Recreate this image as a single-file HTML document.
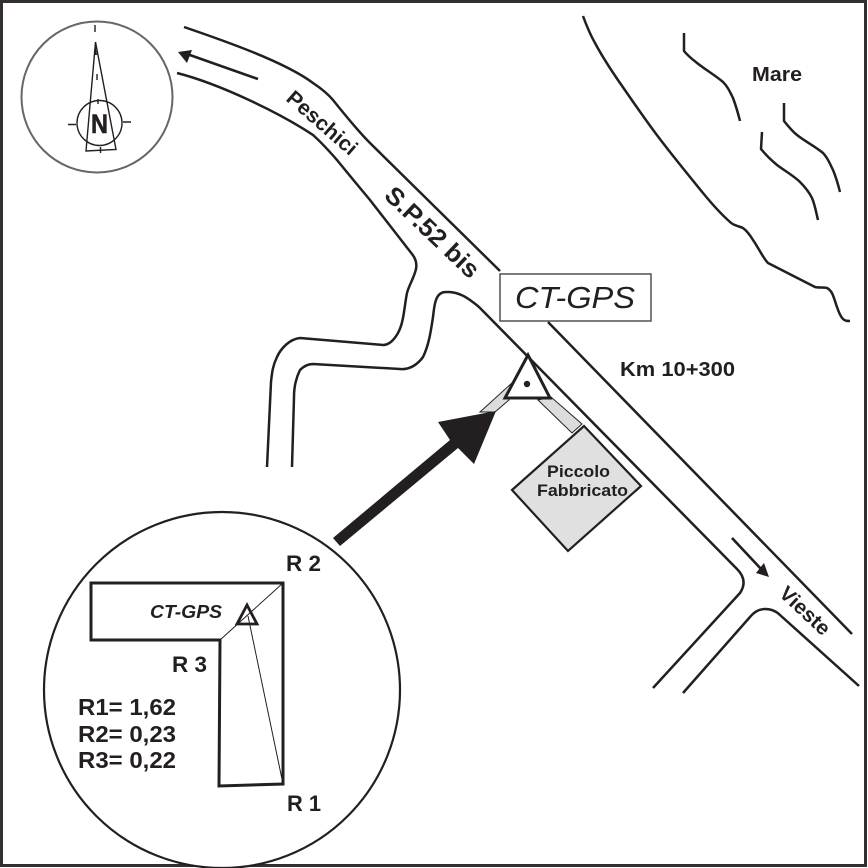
<!DOCTYPE html>
<html><head><meta charset="utf-8"><style>
html,body{margin:0;padding:0;background:#fff}
svg{display:block}
text{font-family:"Liberation Sans",sans-serif;fill:#231f20}
.b{font-weight:bold}
</style></head><body>
<svg width="868" height="868" viewBox="0 0 868 868" xmlns="http://www.w3.org/2000/svg">
<rect x="1.5" y="1.500" width="864" height="864" fill="#fff" stroke="#332f30" stroke-width="3"/>
<g fill="none" stroke="#231f20" stroke-width="2.500" stroke-linecap="butt" stroke-linejoin="round">
<!-- road -->
<path d="M184 27C225 41 285 62 313 83C322 89 328 94 333 100C345 115 358 131 370 143L500 271"/>
<path d="M548 322L852 634"/>
<path d="M177 73C220 84 280 113 313 135C322 143 330 152 337 160C350 176 360 188 370 200L412 254C416 259 417 264 416 269C414 278 409 285 407 293C404 308 404 322 398 333C394 340 389 345 383 345L300 338C290 339 281 348 277 357C273 365 272 372 271 382L267 467"/>
<path d="M292 467L294 397C294 385 297 376 300 370C304 366 308 364 313 364L400 369C410 370 418 364 423 357C429 345 431 330 433 317C434 308 435 300 438 296C441 292 444 292 448 292C456 292 463 295 470 300C474 303 477 305 480 308L737 569C744 576 746 584 740 593L653 688"/>
<path d="M683 693L750 617C754 612 759 609 765 609C771 609 776 611 780 615L859 686"/>
<!-- coast -->
<path d="M583 16C587 27 591 36 595 43C603 58 611 70 620 83C634 103 648 124 663 143C676 160 690 177 703 193C712 204 721 214 730 222C734 226 739 226 743 228C747 231 750 235 753 240C758 247 763 258 768 263L815 287C819 288 823 287 827 288C833 291 834 299 837 307C839 313 841 317 843 319C845 321 847 321 850 321"/>
<path d="M684 33L684 51C688 56 692 59 697 63C706 70 716 76 723 82C728 87 730 92 733 98C736 106 738 113 740 121"/>
<path d="M784 103L784 121C788 126 792 131 797 135C806 142 816 147 823 153C828 158 830 164 833 170C836 177 838 184 840 192"/>
<path d="M762 132L761 149C765 154 771 160 777 165C785 171 794 176 800 182C805 187 809 192 812 198C815 205 816 212 818 220"/>
<!-- road arrows -->
<path d="M258 79L187 54" stroke-width="2.600"/>
<path d="M732 538L762 570" stroke-width="2.600"/>
</g>
<polygon points="178,52 192,50 187,63" fill="#231f20"/>
<polygon points="769,577 764,563 756,573" fill="#231f20"/>
<!-- compass -->
<circle cx="97" cy="97" r="75.500" fill="#fff" stroke="#666" stroke-width="2"/>
<g fill="none" stroke="#231f20" stroke-width="1.400">
<path d="M95.500 42L86 151L116 149.500Z"/>
<circle cx="99.500" cy="123" r="22.500"/>
<path d="M68 124.500H76M123 122H131M95 25V32M97 74V80M98 99V104M100.500 147V153"/>
</g>
<path d="M95 42L97 55H94Z" fill="#231f20"/>
<text class="b" x="91" y="133" font-size="27" textLength="17" lengthAdjust="spacingAndGlyphs" stroke="#231f20" stroke-width="0.600">N</text>
<!-- gray strips -->
<g fill="#dcdcdc" stroke="#231f20" stroke-width="1">
<polygon points="480,412 513,382 509,400 495,412"/>
<polygon points="538,400 551,397 582,424 572,433"/>
</g>
<!-- diamond -->
<polygon points="584,426 641,486 568,551 512,490" fill="#e0e0e0" stroke="#231f20" stroke-width="2.200"/>
<text class="b" x="547" y="477" font-size="17" textLength="63" lengthAdjust="spacingAndGlyphs">Piccolo</text>
<text class="b" x="537" y="496" font-size="17" textLength="91" lengthAdjust="spacingAndGlyphs">Fabbricato</text>
<!-- triangle -->
<polygon points="528,355 505,398 550,398" fill="#fff" stroke="#231f20" stroke-width="3"/>
<circle cx="527" cy="384" r="3.200" fill="#231f20"/>
<!-- big arrow -->
<polygon points="333,538 450,440 438,422 496,411 474,464 458,448 340,546" fill="#231f20"/>
<!-- labels -->
<rect x="500" y="274" width="151" height="47" fill="#fff" stroke="#444" stroke-width="1.400"/>
<text x="515" y="308" font-size="31" font-style="italic" textLength="120" lengthAdjust="spacingAndGlyphs">CT-GPS</text>
<text class="b" x="620" y="376" font-size="20.500" textLength="115" lengthAdjust="spacingAndGlyphs">Km 10+300</text>
<text class="b" x="752" y="81" font-size="20" textLength="50" lengthAdjust="spacingAndGlyphs">Mare</text>
<text class="b" transform="translate(285,100) rotate(41)" font-size="21" textLength="86" lengthAdjust="spacingAndGlyphs">Peschici</text>
<text class="b" transform="translate(383,197) rotate(43.600)" font-size="25" textLength="120" lengthAdjust="spacingAndGlyphs">S.P.52 bis</text>
<text class="b" transform="translate(778,595) rotate(43)" font-size="20.500" textLength="61" lengthAdjust="spacingAndGlyphs">Vieste</text>
<!-- inset -->
<circle cx="222" cy="690" r="178" fill="#fff" stroke="#231f20" stroke-width="2.200"/>
<polygon points="91,583 283,583 283,784 219,786 220,640 91,640" fill="#fff" stroke="#231f20" stroke-width="3"/>
<path d="M220 640L283 583M248 616L283 784" fill="none" stroke="#231f20" stroke-width="1"/>
<polygon points="247,605 237,624 257,624" fill="none" stroke="#231f20" stroke-width="2.800"/>
<text class="b" x="150" y="618" font-size="18" font-style="italic" textLength="72" lengthAdjust="spacingAndGlyphs">CT-GPS</text>
<text class="b" x="286" y="571" font-size="22" textLength="35" lengthAdjust="spacingAndGlyphs">R 2</text>
<text class="b" x="172" y="672" font-size="22" textLength="35" lengthAdjust="spacingAndGlyphs">R 3</text>
<text class="b" x="287" y="811" font-size="22" textLength="34" lengthAdjust="spacingAndGlyphs">R 1</text>
<text class="b" x="78" y="715" font-size="23" textLength="98" lengthAdjust="spacingAndGlyphs">R1= 1,62</text>
<text class="b" x="78" y="742" font-size="23" textLength="98" lengthAdjust="spacingAndGlyphs">R2= 0,23</text>
<text class="b" x="78" y="768" font-size="23" textLength="98" lengthAdjust="spacingAndGlyphs">R3= 0,22</text>
</svg>
</body></html>
